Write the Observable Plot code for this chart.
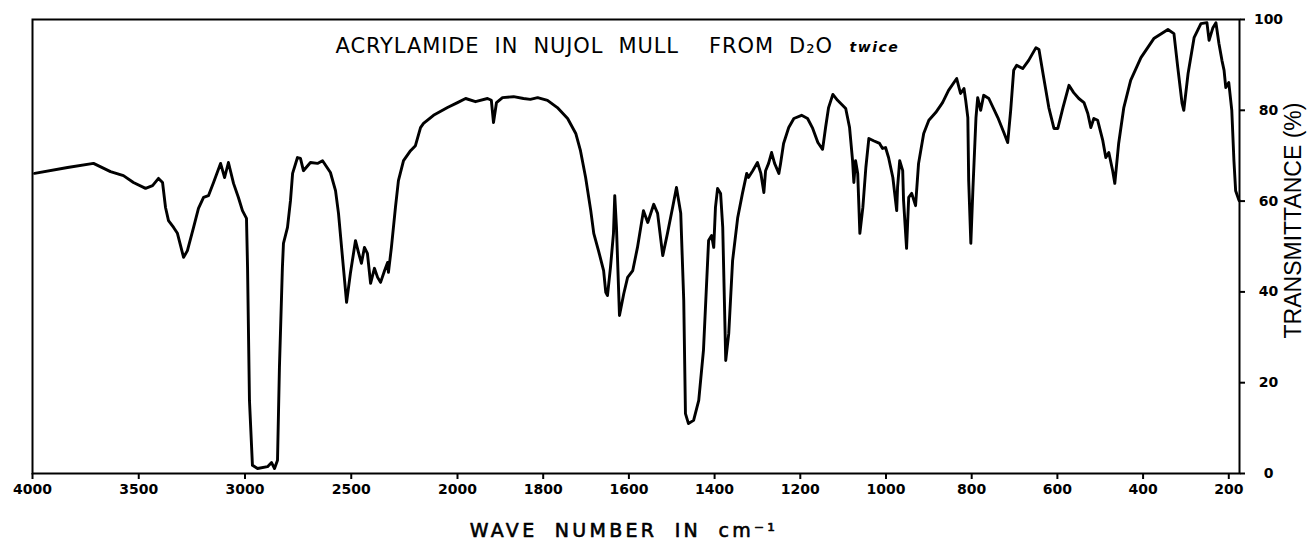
<!DOCTYPE html>
<html>
<head>
<meta charset="utf-8">
<script src="https://cdn.jsdelivr.net/npm/d3@7"></script>
<script src="https://cdn.jsdelivr.net/npm/@observablehq/plot@0.6"></script>
<style>
  html, body { margin: 0; padding: 0; background: white; }
  #chart { width: 1308px; height: 540px; }
</style>
</head>
<body>
<div id="chart"></div>
<script>
// Wave numbers (cm-1) and transmittance (%)
const waveNumbers = [
  3990,3835,3713,3633,3572,3525,3468,3435,3407,3388,3374,3360,3336,3318,3289,3271,3242,3219,3195,3172,
  3148,3115,3096,3078,3054,3031,3012,2993,2988,2979,2965,2941,2894,2875,2861,2847,2838,2824,2819,2800,
  2786,2776,2753,2739,2725,2692,2659,2635,2598,2574,2560,2537,2522,2504,2480,2466,2452,2438,2424,2409,
  2391,2376,2362,2343,2329,2325,2311,2292,2278,2254,2221,2198,2174,2160,2113,2047,2000,1981,1958,1930,
  1921,1916,1909,1895,1869,1846,1830,1813,1790,1767,1743,1724,1713,1701,1689,1682,1671,1659,1654,1650,
  1643,1636,1633,1629,1622,1612,1603,1591,1580,1566,1556,1542,1533,1521,1510,1498,1489,1479,1472,1468,
  1461,1449,1437,1426,1414,1407,1402,1398,1393,1386,1381,1374,1367,1358,1346,1335,1325,1321,1311,1300,
  1292,1285,1281,1274,1267,1260,1250,1246,1239,1227,1215,1197,1183,1171,1159,1148,1141,1134,1124,1113,
  1094,1085,1078,1075,1071,1066,1061,1054,1047,1040,1029,1015,1008,1001,994,984,975,973,968,961,
  959,952,947,940,931,924,912,900,884,868,854,835,826,818,814,809,807,802,797,790,
  786,779,772,760,739,725,716,709,702,695,681,667,650,643,632,620,608,599,587,573,
  562,550,538,529,522,515,506,494,487,480,471,466,457,445,429,405,375,342,328,319,
  309,305,295,281,265,251,246,237,230,223,216,211,207,200,193,188,184,176
];
const transmittance = [
  66.1,67.4,68.3,66.5,65.6,64.1,62.8,63.4,65.0,64.1,58.6,55.7,54.2,52.9,47.6,49.1,54.2,58.4,60.8,61.2,
  64.1,68.3,65.2,68.5,63.9,60.8,57.9,56.2,45.4,16.1,1.8,1.1,1.5,2.4,1.1,2.9,23.3,45.4,50.7,54.2,
  60.1,66.1,69.6,69.4,66.7,68.5,68.3,68.9,66.3,62.3,57.3,45.4,37.7,44.1,51.3,48.7,46.3,49.8,48.5,41.9,
  45.2,43.2,42.1,44.7,46.5,44.3,49.8,58.6,64.5,68.9,71.1,72.2,76.2,77.1,78.9,80.6,81.7,82.6,81.9,82.6,
  82.2,77.3,81.7,82.8,83.0,82.6,82.4,82.8,82.2,80.6,78.2,74.9,71.1,65.2,57.9,52.9,49.1,44.7,39.9,39.2,
  45.4,52.9,61.2,54.2,34.8,39.6,43.2,44.7,49.8,57.9,55.3,59.3,57.3,48.0,52.9,58.6,63.0,57.3,38.1,13.2,
  11.0,11.7,16.1,27.1,51.3,52.4,49.8,58.6,62.8,61.7,54.2,24.9,30.8,46.9,56.4,61.7,66.1,65.2,66.7,68.5,
  66.1,61.9,66.7,68.3,70.7,68.3,66.1,68.3,72.7,76.2,78.2,78.9,78.2,76.0,72.9,71.4,76.2,80.6,83.5,82.2,
  80.4,76.2,68.9,64.1,68.9,66.1,52.9,58.6,67.4,73.8,73.3,72.7,71.6,71.8,69.6,65.2,57.9,63.0,68.9,66.7,
  60.1,49.6,60.8,61.7,59.0,68.3,74.9,77.8,79.5,81.7,84.4,87.0,83.7,84.8,82.2,78.4,64.5,50.7,63.0,78.4,
  82.8,80.0,83.3,82.6,78.4,75.1,72.9,80.0,88.8,89.9,89.2,91.0,93.8,93.4,87.2,80.6,76.0,76.0,80.6,85.5,
  83.9,82.6,81.7,79.3,76.2,78.2,77.8,73.3,69.6,70.7,66.7,63.9,72.7,80.6,86.6,91.6,95.8,97.8,96.9,89.4,
  81.5,80.0,88.1,96.0,99.1,99.3,95.4,98.2,99.3,94.7,91.0,88.8,85.0,86.1,80.0,68.9,62.3,60.1
];
const xTicks = [4000, 3500, 3000, 2500, 2000, 1800, 1600, 1400, 1200, 1000, 800, 600, 400, 200];
const yTicks = [0, 20, 40, 60, 80, 100];
const titleText = "ACRYLAMIDE IN NUJOL MULL  FROM D\u2082O";
const titleNote = "twice";
const xLabel = "WAVE NUMBER IN cm\u207B\u00B9";
const yLabel = "TRANSMITTANCE (%)";

const spectrum = waveNumbers.map((w, i) => ({w, t: transmittance[i]}));

const chart = Plot.plot({
  width: 1308,
  height: 540,
  marginLeft: 32,
  marginRight: 69,
  marginTop: 19,
  marginBottom: 67,
  style: {fontFamily: "DejaVu Sans", background: "white", color: "black", overflow: "visible"},
  x: {type: "linear", domain: [4000, 2000, 175], range: [32, 457, 1239]},
  y: {domain: [0, 100], range: [473, 19]},
  marks: [
    Plot.frame({stroke: "black", strokeWidth: 2}),
    Plot.axisX({anchor: "bottom", ticks: xTicks, tickFormat: d => String(d), tickSize: 6, tickPadding: 5,
      fontSize: 14, fontWeight: "bold", strokeWidth: 2, label: null}),
    Plot.axisY({anchor: "right", ticks: yTicks, tickFormat: d => String(d), tickSize: 5, tickPadding: 24,
      textAnchor: "middle", fontSize: 14, fontWeight: "bold", strokeWidth: 2, label: null}),
    Plot.line(spectrum, {x: "w", y: "t", stroke: "black", strokeWidth: 2.9, strokeLinejoin: "round", strokeLinecap: "round"}),
    Plot.text([titleText], {frameAnchor: "top-left", dx: 303, dy: 27, textAnchor: "start", lineAnchor: "middle",
      fontSize: 21, fill: "black"}),
    Plot.text([titleNote], {frameAnchor: "top-left", dx: 817, dy: 28, textAnchor: "start", lineAnchor: "middle",
      fontSize: 14, fontWeight: "bold", fontStyle: "italic", fill: "black"}),
    Plot.text([xLabel], {frameAnchor: "bottom", dx: -12, dy: 57, textAnchor: "middle", lineAnchor: "middle",
      fontSize: 19, fill: "black", stroke: "black", strokeWidth: 0.6}),
    Plot.text([yLabel], {frameAnchor: "right", dx: 54, dy: -26, rotate: -90, textAnchor: "middle", lineAnchor: "middle",
      fontSize: 23, fontFamily: "Liberation Sans", fill: "black"})
  ]
});
document.getElementById("chart").appendChild(chart);
const svg = d3.select(chart);
function spacing(content, letter, word) {
  svg.selectAll("text").filter(function() { return this.textContent === content; })
    .style("letter-spacing", letter + "px").style("word-spacing", word + "px");
}
spacing(titleText, 0.9, 7.5);
spacing(titleNote, 1.5, 0);
spacing(xLabel, 3.3, 8);
</script>
</body>
</html>
